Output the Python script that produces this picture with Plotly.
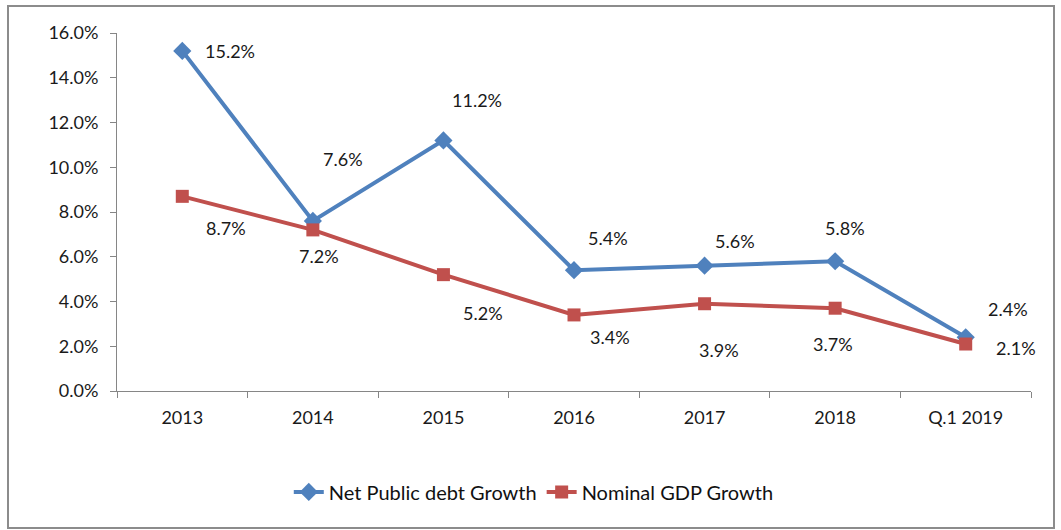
import plotly.graph_objects as go

categories = ["2013", "2014", "2015", "2016", "2017", "2018", "Q.1 2019"]
debt_growth = [15.2, 7.6, 11.2, 5.4, 5.6, 5.8, 2.4]
gdp_growth = [8.7, 7.2, 5.2, 3.4, 3.9, 3.7, 2.1]
y_ticks = [0, 2, 4, 6, 8, 10, 12, 14, 16]

# label offsets (pixels) for data labels
debt_label_shift = [(48, 0), (30, 62), (34, 40), (34, 32), (30, 25), (10, 33), (42, 28)]
gdp_label_shift = [(44, -32), (6, -26), (40, -38), (36, -22), (14, -46), (-2, -36), (50, -4)]

BLUE = "#4F81BD"
RED = "#C0504D"
FONT = "Lato, Calibri, 'Open Sans', sans-serif"
TXT = "#1a1a1a"

fig = go.Figure()
fig.add_trace(go.Scatter(
    x=categories, y=[v / 100 for v in debt_growth], mode="lines+markers",
    name="Net Public debt Growth",
    line=dict(color=BLUE, width=4),
    marker=dict(symbol="diamond", size=14, color=BLUE),
))
fig.add_trace(go.Scatter(
    x=categories, y=[v / 100 for v in gdp_growth], mode="lines+markers",
    name="Nominal GDP Growth",
    line=dict(color=RED, width=4),
    marker=dict(symbol="square", size=13, color=RED),
))

annotations = []
for i, (v, (dx, dy)) in enumerate(zip(debt_growth, debt_label_shift)):
    annotations.append(dict(x=i, y=v / 100, xref="x", yref="y", text=f"{v:.1f}%",
                            showarrow=False, xshift=dx, yshift=dy,
                            font=dict(size=18, color=TXT)))
for i, (v, (dx, dy)) in enumerate(zip(gdp_growth, gdp_label_shift)):
    annotations.append(dict(x=i, y=v / 100, xref="x", yref="y", text=f"{v:.1f}%",
                            showarrow=False, xshift=dx, yshift=dy,
                            font=dict(size=18, color=TXT)))

fig.update_layout(
    width=1061, height=530,
    margin=dict(l=117, r=30, t=33, b=139),
    paper_bgcolor="white", plot_bgcolor="white",
    font=dict(family=FONT, size=18, color=TXT),
    showlegend=True,
    legend=dict(orientation="h", x=0.456, xanchor="center", y=-0.282, yanchor="middle",
                font=dict(size=20, color="#111"), tracegroupgap=0),
    annotations=annotations,
    shapes=[dict(type="rect", xref="paper", yref="paper",
                 x0=(8 - 117) / 914, x1=(1054 - 117) / 914,
                 y0=-137 / 358, y1=385 / 358,
                 line=dict(color="#8c8c8c", width=2), layer="below")],
)
fig.update_xaxes(type="category", showgrid=False, showline=True, linecolor="#868686",
                 linewidth=1, ticks="outside", tickson="boundaries", ticklen=6,
                 tickcolor="#868686", range=[-0.5, 6.5], tickfont=dict(size=18),
                 ticklabelstandoff=10)
fig.update_yaxes(range=[0, 0.16], tickvals=[t / 100 for t in y_ticks], tickformat=".1%",
                 showgrid=False, showline=True, linecolor="#868686", linewidth=1,
                 ticks="outside", ticklen=6, tickcolor="#868686", zeroline=False,
                 tickfont=dict(size=18), ticklabelstandoff=8)

fig.write_html("out.html")
